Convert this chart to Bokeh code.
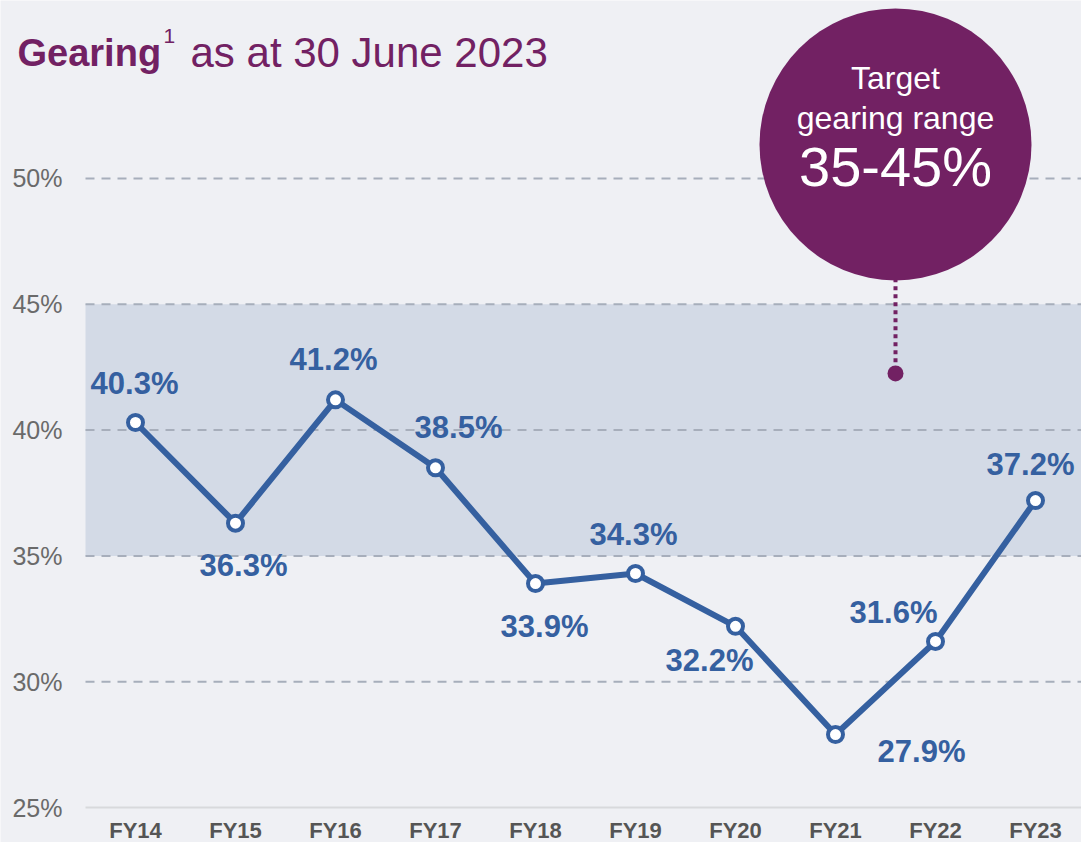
from bokeh.plotting import figure
from bokeh.models import (ColumnDataSource, FixedTicker, Range1d, LabelSet, Label, LinearAxis)
from bokeh.core.properties import value
from bokeh.embed import file_html
from bokeh.resources import INLINE

# ---- data ----
categories = ["FY14", "FY15", "FY16", "FY17", "FY18", "FY19", "FY20", "FY21", "FY22", "FY23"]
gearing = [40.3, 36.3, 41.2, 38.5, 33.9, 34.3, 32.2, 27.9, 31.6, 37.2]
y_ticks = [25, 30, 35, 40, 45, 50]
target_low = 35
target_high = 45
target_text = ["Target", "gearing range", "35-45%"]
title_bold = "Gearing"
title_sup = "1"
title_rest = "as at 30 June 2023"

# label offsets (screen px) - layout only
lab_dx = [-1, 8, -2, 23, 9, -2, -26, 86, -42, -5]
lab_dy = [39, -42, 40, 40, -43, 39, -34, -17, 29, 36]

BG = "#eff0f4"
BAND = "#d3dae6"
BLUE = "#3560a0"
PURPLE = "#722163"
GRID = "#a7aebb"
FONT = "Liberation Sans"

xs = list(range(len(categories)))
x_left = -0.5     # left edge of plotting area (in category units)
x_right = 9.46
y_base = 25

p = figure(width=1081, height=842, output_backend="svg", toolbar_location=None,
           x_range=Range1d(-1.35, x_right), y_range=Range1d(23.61, 57.07),
           x_axis_location=None, y_axis_location=None,
           min_border_left=0, min_border_right=0, min_border_top=0, min_border_bottom=0)
p.background_fill_color = BG
p.border_fill_color = BG
p.outline_line_color = None
p.grid.grid_line_color = None

# band
p.quad(left=[x_left], right=[11], bottom=[target_low], top=[target_high],
       fill_color=BAND, line_color=None, level="image")

# dashed grid lines (only over the plotting area)
grid_ticks = [t for t in y_ticks if t > y_base]
p.segment(x0=[x_left] * len(grid_ticks), y0=grid_ticks, x1=[11] * len(grid_ticks), y1=grid_ticks,
          line_color=GRID, line_width=2, line_dash="9 7", level="underlay")

# y axis at fixed location
yax = LinearAxis(fixed_location=x_left)
yax.ticker = FixedTicker(ticks=y_ticks)
yax.major_label_overrides = {t: f"{t}%" for t in y_ticks}
yax.axis_line_color = None
yax.major_tick_line_color = None
yax.minor_tick_line_color = None
yax.major_label_standoff = 17
yax.major_label_text_font = FONT
yax.major_label_text_font_size = "25px"
yax.major_label_text_color = "#6a6a6a"
p.add_layout(yax, "left")

# x axis at fixed location (25%)
xax = LinearAxis(fixed_location=y_base)
xax.ticker = FixedTicker(ticks=xs)
xax.bounds = (x_left, x_right)
xax.major_label_overrides = {i: c for i, c in enumerate(categories)}
xax.axis_line_color = "#d8d9dc"
xax.axis_line_width = 2
xax.major_tick_line_color = None
xax.minor_tick_line_color = None
xax.major_label_standoff = 4
xax.major_label_text_font = FONT
xax.major_label_text_font_style = "bold"
xax.major_label_text_font_size = "22px"
xax.major_label_text_color = "#555555"
p.add_layout(xax, "below")

# line + markers
src = ColumnDataSource(dict(x=xs, y=gearing, label=[f"{v:.1f}%" for v in gearing],
                            dx=lab_dx, dy=lab_dy))
p.line("x", "y", source=src, line_color=BLUE, line_width=6)
p.scatter("x", "y", source=src, size=15, fill_color="white", line_color=BLUE, line_width=4)

labels = LabelSet(x="x", y="y", text="label", x_offset="dx", y_offset="dy", source=src,
                  text_align="center", text_baseline="middle", text_color=BLUE,
                  text_font=value(FONT), text_font_size="31px", text_font_style="bold")
p.add_layout(labels)

# target bubble
bx, by = 7.6, 51.35
dot_y = 42.25
p.segment(x0=[bx], y0=[by - 5], x1=[bx], y1=[dot_y], line_color=PURPLE, line_width=4,
          line_dash="4 4")
p.scatter(x=[bx], y=[dot_y], size=16, fill_color=PURPLE, line_color=None)
p.scatter(x=[bx], y=[by], size=272, fill_color=PURPLE, line_color=None)
for txt, off, fs in [(target_text[0], 66, "32px"), (target_text[1], 26, "32px"),
                     (target_text[2], -22, "56px")]:
    p.add_layout(Label(x=bx, y=by, text=txt, x_offset=0, y_offset=off,
                       text_align="center", text_baseline="middle", text_color="white",
                       text_font=FONT, text_font_size=fs))

# title (canvas units: pixels from top-left of the canvas)
p.add_layout(Label(x=17, y=52, x_units="canvas", y_units="canvas",
                   text=title_bold, text_align="left", text_baseline="alphabetic",
                   text_color=PURPLE, text_font=FONT, text_font_style="bold",
                   text_font_size="38px"))
p.add_layout(Label(x=163, y=35, x_units="canvas", y_units="canvas",
                   text=title_sup, text_align="left", text_baseline="alphabetic",
                   text_color=PURPLE, text_font=FONT, text_font_size="21px"))
p.add_layout(Label(x=190, y=52, x_units="canvas", y_units="canvas",
                   text=title_rest, text_align="left", text_baseline="alphabetic",
                   text_color=PURPLE, text_font=FONT, text_font_size="42px"))

open("out.html", "w").write(file_html(p, INLINE))
